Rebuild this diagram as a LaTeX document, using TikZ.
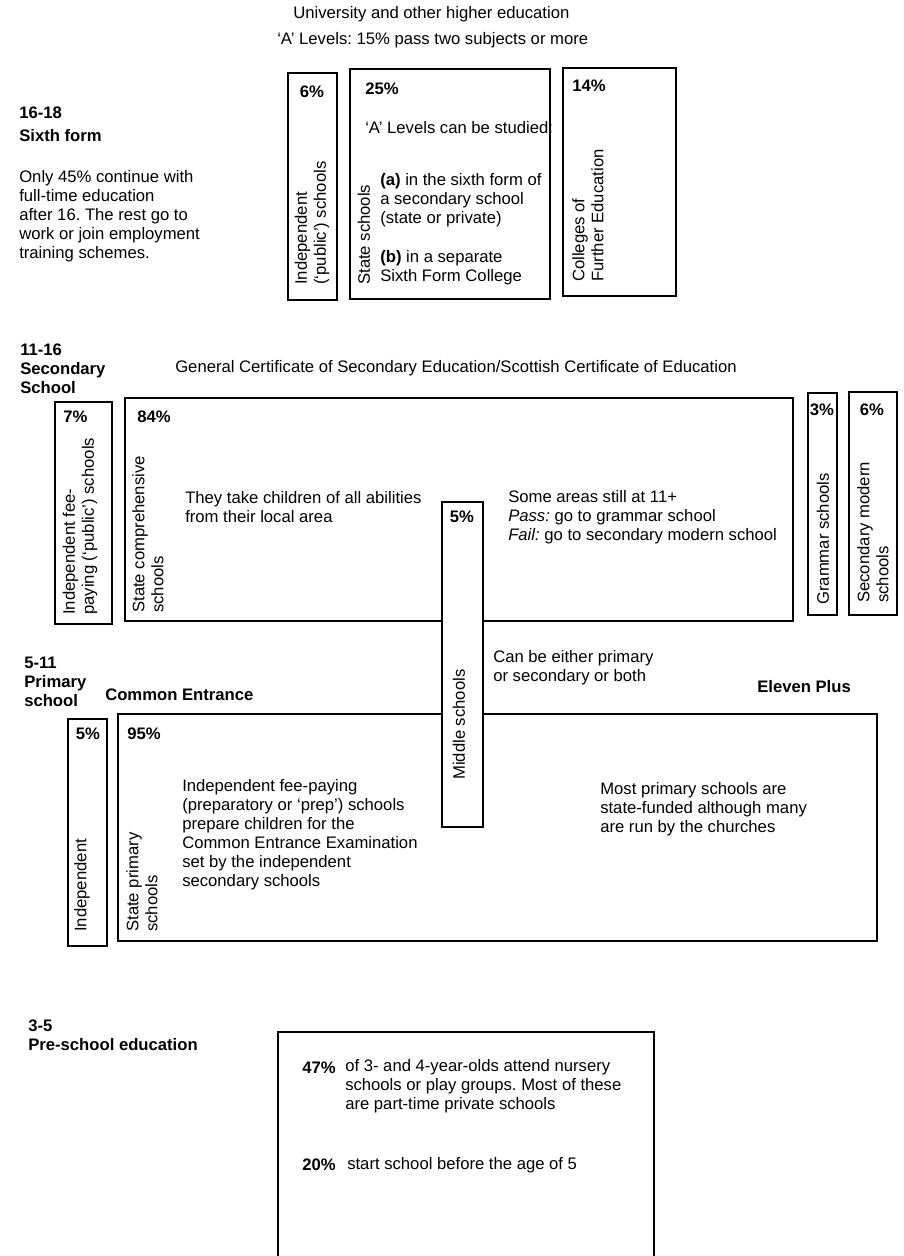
\documentclass[tikz,border=0pt]{standalone}
\usepackage{fontspec}
\setmainfont{Liberation Sans}
\frenchspacing
\begin{document}
\begin{tikzpicture}[x=0.75pt,y=0.75pt,yscale=-1,xscale=1,
  box/.style={draw=black,line width=1.1pt},
  txt/.style={inner sep=0pt,anchor=west,align=left,font=\fontsize{12.5}{14.25}\selectfont},
  hdr/.style={txt,font=\fontsize{12.5}{14.25}\selectfont\bfseries},
  vtxt/.style={txt,rotate=90}]
\useasboundingbox (0,0) rectangle (903,1256);

%Shape: Rectangle
\draw [box] (288,73) rectangle (337,300) ;
%Shape: Rectangle
\draw [box] (350,69) rectangle (550,299) ;
%Shape: Rectangle
\draw [box] (563,68) rectangle (676,296) ;

%Shape: Rectangle
\draw [box] (55,402) rectangle (112,624) ;
%Shape: Rectangle
\draw [box] (125,398) rectangle (793,621) ;
%Shape: Rectangle
\draw [box] (808,393) rectangle (837,615) ;
%Shape: Rectangle
\draw [box] (849,392) rectangle (897,615) ;

%Shape: Rectangle
\draw [box] (68,719) rectangle (107,946) ;
%Shape: Rectangle
\draw [box] (118,714) rectangle (877,941) ;

%Shape: Rectangle
\draw [box,fill=white] (442,502) rectangle (483,827) ;

%Shape: Rectangle
\draw [box] (278,1258) |- (654,1032) -- (654,1258) ;

% Text Node
\draw (293,14) node [txt] (univ) {University and other higher education};
% Text Node
\draw (277,40) node [txt] (alevels) {‘A’ Levels: 15\% pass two subjects or more};
% Text Node
\draw (19,113) node [hdr] (age16) {16-18};
% Text Node
\draw (19,136) node [hdr] (sixth) {Sixth form};
% Text Node
\draw (19,216) node [txt] (only) {Only 45\% continue with\\full-time education\\after 16. The rest go to\\work or join employment\\training schemes.};
% Text Node
\draw (312,92) node [hdr,anchor=center] (pindsix) {6\%};
% Text Node
\draw (365,89) node [hdr] (pstatesix) {25\%};
% Text Node
\draw (572,86) node [hdr] (pcoll) {14\%};
% Text Node
\draw (312,285) node [vtxt] (indsix) {Independent\\(‘public’) schools};
% Text Node
\draw (364,285) node [vtxt] (statesix) {State schools};
% Text Node
\draw (588,282) node [vtxt] (coll) {Colleges of\\Further Education};
% Text Node
\draw (365,128) node [txt] (studied) {‘A’ Levels can be studied:};
% Text Node
\draw (380,200) node [txt] (opta) {\textbf{(a)} in the sixth form of\\a secondary school\\(state or private)};
% Text Node
\draw (380,268) node [txt] (optb) {\textbf{(b)} in a separate\\Sixth Form College};

% Text Node
\draw (20,369) node [hdr] (age11) {11-16\\Secondary\\School};
% Text Node
\draw (175,368) node [txt] (gcse) {General Certificate of Secondary Education/Scottish Certificate of Education};
% Text Node
\draw (63,417) node [hdr] (pindsec) {7\%};
% Text Node
\draw (137,417) node [hdr] (pcomp) {84\%};
% Text Node
\draw (80,615) node [vtxt] (indsec) {Independent fee-\\paying (‘public’) schools};
% Text Node
\draw (148,613) node [vtxt] (comp) {State comprehensive\\schools};
% Text Node
\draw (185,507) node [txt] (abilities) {They take children of all abilities\\from their local area};
% Text Node
\draw (462,517) node [hdr,anchor=center] (pmid) {5\%};
% Text Node
\draw (508,517) node [txt] (elevensec) {Some areas still at 11+\\\textit{Pass:} go to grammar school\\\textit{Fail:} go to secondary modern school};
% Text Node
\draw (822,410) node [hdr,anchor=center] (pgram) {3\%};
% Text Node
\draw (872,410) node [hdr,anchor=center] (pmod) {6\%};
% Text Node
\draw (823,605) node [vtxt] (gram) {Grammar schools};
% Text Node
\draw (873,603) node [vtxt] (modern) {Secondary modern\\schools};

% Text Node
\draw (24,682) node [hdr] (age5) {5-11\\Primary\\school};
% Text Node
\draw (105,695) node [hdr] (common) {Common Entrance};
% Text Node
\draw (493,668) node [txt] (either) {Can be either primary\\or secondary or both};
% Text Node
\draw (757,687) node [hdr] (elevenplus) {Eleven Plus};
% Text Node
\draw (88,734) node [hdr,anchor=center] (pindpri) {5\%};
% Text Node
\draw (127,734) node [hdr] (pstatepri) {95\%};
% Text Node
\draw (82,932) node [vtxt] (indpri) {Independent};
% Text Node
\draw (142,932) node [vtxt] (statepri) {State primary\\schools};
% Text Node
\draw (459,780) node [vtxt] (middle) {Middle schools};
% Text Node
\draw (182,835) node [txt] (prep) {Independent fee-paying\\(preparatory or ‘prep’) schools\\prepare children for the\\Common Entrance Examination\\set by the independent\\secondary schools};
% Text Node
\draw (600,809) node [txt] (funded) {Most primary schools are\\state-funded although many\\are run by the churches};

% Text Node
\draw (28,1035) node [hdr] (age3) {3-5\\Pre-school education};
% Text Node
\draw (302,1068) node [hdr] (pnursery) {47\%};
% Text Node
\draw (345,1086) node [txt] (nursery) {of 3- and 4-year-olds attend nursery\\schools or play groups. Most of these\\are part-time private schools};
% Text Node
\draw (302,1165) node [hdr] (pearly) {20\%};
% Text Node
\draw (347,1165) node [txt] (early) {start school before the age of 5};

\end{tikzpicture}
\end{document}
